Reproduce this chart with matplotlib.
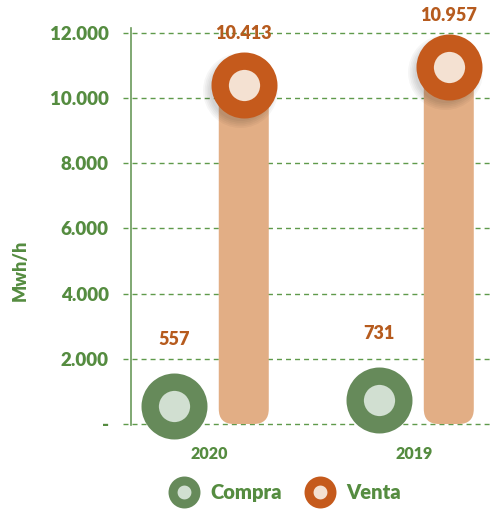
import matplotlib.pyplot as plt
from matplotlib.lines import Line2D
from matplotlib.patches import FancyBboxPatch
from matplotlib.transforms import offset_copy

# --- Data ---
YEARS = ["2020", "2019"]
COMPRA = [557, 731]
VENTA = [10413, 10957]
Y_TICKS = [0, 2000, 4000, 6000, 8000, 10000, 12000]
Y_TICK_LABELS = ["-", "2.000", "4.000", "6.000", "8.000", "10.000", "12.000"]

# --- Style ---
GREEN_TEXT = "#558C40"
GRID_GREEN = "#5F9A4B"
ORANGE_TEXT = "#B65B1E"
COMPRA_RING = "#668A5A"
COMPRA_CORE = "#D1DFD1"
VENTA_RING = "#C55A1C"
VENTA_CORE = "#F4E1D2"
BAR_COLOR = "#E2AE85"
WEIGHT = "heavy"

plt.rcParams["font.family"] = ["Lato", "DejaVu Sans"]
plt.rcParams["font.weight"] = WEIGHT

W, H = 491, 511
XLIM = (-0.38, 1.371)
YLIM = (-31, 12153)
OFFSET = 0.17


def fmt(v: int) -> str:
    return f"{v:,}".replace(",", ".")


def main() -> None:
    fig = plt.figure(figsize=(W / 100, H / 100), dpi=100)
    ax = fig.add_axes([131 / W, 86 / H, 359 / W, 397 / H])
    ax.set_xlim(*XLIM)
    ax.set_ylim(*YLIM)

    px_x = 359 / (XLIM[1] - XLIM[0])
    px_y = 397 / (YLIM[1] - YLIM[0])
    aspect = px_x / px_y

    # dashed grid, slightly sticking out to the left of the axis
    ax.hlines(Y_TICKS, XLIM[0] - 8 / px_x, XLIM[1], colors=GRID_GREEN,
              linewidth=1.0, linestyles=(0, (3.6, 2.9)), clip_on=False, zorder=1)

    bar_w = 50 / px_x
    shadow_tr = offset_copy(ax.transData, fig=fig, x=-4, y=-5, units="dots")
    for i, (c, v) in enumerate(zip(COMPRA, VENTA)):
        xv = i + OFFSET
        xc = i - OFFSET
        bar = FancyBboxPatch((xv - bar_w / 2, 0), bar_w, v,
                             boxstyle=f"round,pad=0,rounding_size={15 / px_x}",
                             mutation_aspect=aspect, facecolor=BAR_COLOR,
                             edgecolor="none", zorder=2)
        ax.add_patch(bar)

        # soft shadow under the venta marker
        for k in range(5):
            ax.plot(xv, v, marker="o", ms=44 + 2.5 * k, mew=0, color="#000000",
                    alpha=0.035, transform=shadow_tr, clip_on=False, zorder=3)
        ax.plot(xv, v, marker="o", ms=35, mew=12.5, mfc=VENTA_CORE,
                mec=VENTA_RING, clip_on=False, zorder=4)
        ax.plot(xc, c, marker="o", ms=35, mew=12.5, mfc=COMPRA_CORE,
                mec=COMPRA_RING, clip_on=False, zorder=4)

        ax.annotate(fmt(v), (xv, v), xytext=(0, 37), textcoords="offset points",
                    ha="center", va="center", fontsize=13, color=ORANGE_TEXT,
                    fontweight=WEIGHT, zorder=5)
        ax.annotate(fmt(c), (xc, c), xytext=(0, 48), textcoords="offset points",
                    ha="center", va="center", fontsize=13, color=ORANGE_TEXT,
                    fontweight=WEIGHT, zorder=5)

    ax.set_yticks(Y_TICKS, Y_TICK_LABELS)
    ax.set_xticks([0, 1], YEARS)
    ax.tick_params(axis="y", length=0, pad=16, labelsize=13.5, labelcolor=GREEN_TEXT)
    ax.tick_params(axis="x", length=0, pad=15, labelsize=11.5, labelcolor=GREEN_TEXT)
    for lab in ax.get_xticklabels() + ax.get_yticklabels():
        lab.set_fontweight(WEIGHT)

    for side in ("top", "right", "bottom"):
        ax.spines[side].set_visible(False)
    ax.spines["left"].set_color("#6A9A5A")
    ax.spines["left"].set_linewidth(1.2)

    ax.set_ylabel("Mwh/h", fontsize=13, color=GREEN_TEXT, fontweight=WEIGHT)
    ax.yaxis.set_label_coords(-0.285, 0.39)

    handles = [
        Line2D([], [], ls="none", marker="o", ms=16.5, mew=6.5,
               mfc=COMPRA_CORE, mec=COMPRA_RING),
        Line2D([], [], ls="none", marker="o", ms=16.5, mew=6.5,
               mfc=VENTA_CORE, mec=VENTA_RING),
    ]
    ax.legend(handles, ["Compra", "Venta"], loc="center",
              bbox_to_anchor=(0.583, 0.037), bbox_transform=fig.transFigure,
              ncol=2, frameon=False, handlelength=1.2, handletextpad=0.7,
              columnspacing=1.3, labelcolor=GREEN_TEXT,
              prop={"weight": WEIGHT, "size": 14.5})

    fig.savefig("out.png", dpi=100)
    plt.close(fig)


if __name__ == "__main__":
    main()
